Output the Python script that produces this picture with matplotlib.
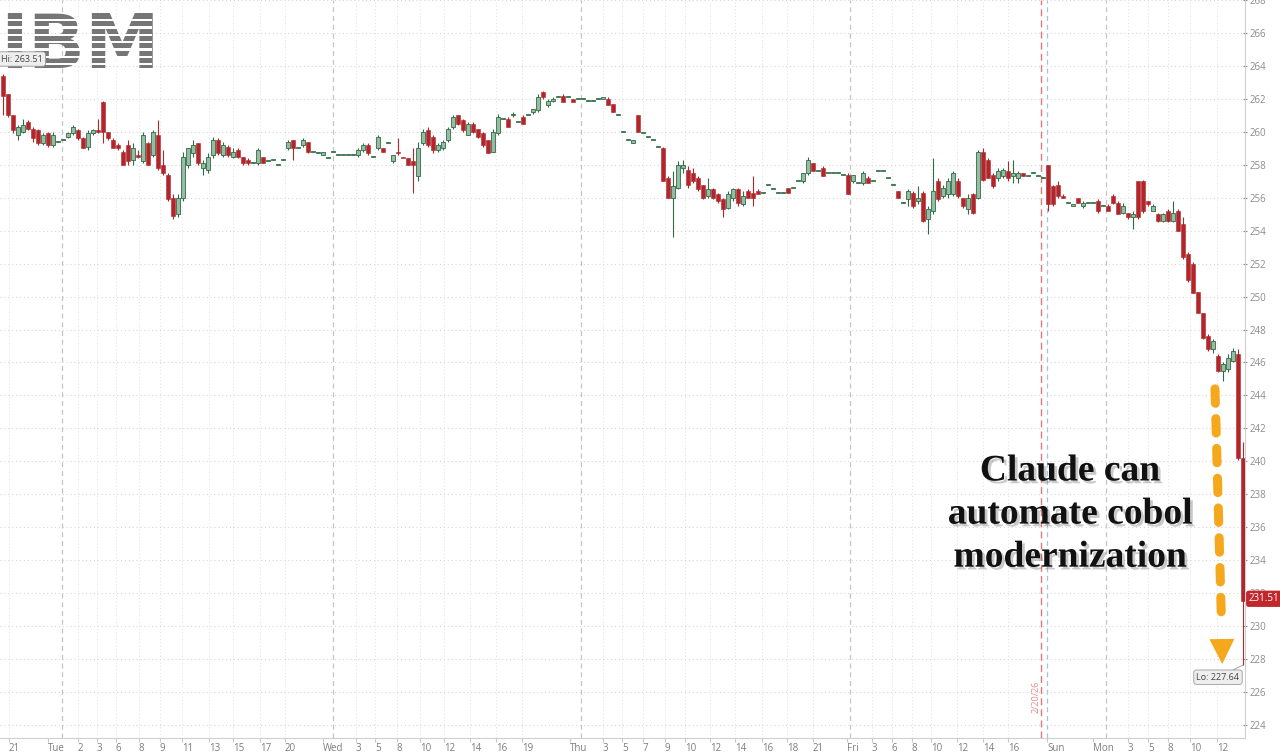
import numpy as np
import matplotlib
matplotlib.use("Agg")
import matplotlib.pyplot as plt
from matplotlib import patheffects
from matplotlib.patches import Rectangle

# ---- candle data (ordinal bars) ----
opens = [
    263.4, 262.3, 261.0, 259.8, 260.0, 260.6, 260.2, 260.1, 259.3, 259.9,
    259.2, 259.4, 259.5, 259.7, 259.9, 260.1, 259.6, 259.1, 259.9, 260.1,
    261.8, 260.0, 259.5, 259.2, 258.8, 259.2, 258.3, 258.6, 258.2, 259.3,
    258.6, 259.8, 258.0, 257.4, 256.0, 255.0, 256.0, 258.0, 258.7, 259.3,
    257.8, 257.7, 258.6, 259.5, 258.6, 259.1, 258.5, 258.9, 258.5, 258.3,
    258.1, 258.1, 258.5, 258.2, 258.3, 258.0, 258.3, 259.0, 259.5, 259.0,
    259.2, 259.4, 258.8, 258.7, 258.6, 258.4, 258.8, 258.6, 258.6, 258.6,
    258.6, 258.6, 258.9, 259.2, 258.5, 259.0, 259.0, 259.3, 258.2, 258.8,
    258.5, 258.4, 258.2, 257.3, 259.3, 260.1, 259.7, 258.9, 259.0, 259.5,
    260.3, 261.0, 260.7, 259.8, 260.5, 260.2, 259.9, 259.5, 258.8, 259.9,
    260.8, 260.8, 261.0, 260.6, 260.9, 261.0, 261.2, 261.3, 262.4, 261.6,
    261.9, 262.1, 262.2, 262.1, 262.0, 262.0, 262.0, 261.9, 261.9, 262.0,
    262.0, 262.0, 261.7, 261.0, 260.0, 259.5, 259.3, 261.0, 259.9, 259.7,
    259.5, 259.1, 259.0, 257.2, 256.0, 256.6, 257.8, 257.7, 257.5, 257.2,
    256.8, 256.1, 256.5, 256.2, 255.9, 255.4, 256.0, 256.5, 255.6, 256.4,
    256.3, 256.4, 256.3, 256.8, 256.5, 256.3, 256.3, 256.6, 256.6, 257.0,
    257.0, 257.5, 258.1, 257.6, 257.8, 257.5, 257.5, 257.5, 257.4, 257.4,
    257.0, 256.9, 256.9, 257.2, 257.0, 257.6, 257.6, 257.2, 256.8, 256.4,
    255.7, 255.9, 256.3, 255.8, 256.3, 254.7, 255.2, 257.0, 256.1, 256.2,
    256.2, 257.0, 256.0, 255.3, 256.2, 256.0, 258.8, 258.3, 257.4, 257.2,
    257.3, 257.6, 257.3, 257.2, 257.5, 257.3, 257.5, 257.3, 257.2, 258.0,
    256.7, 256.8, 256.1, 255.7, 255.5, 256.0, 255.5, 255.7, 255.7, 255.8,
    255.5, 255.5, 256.1, 255.7, 255.1, 255.1, 254.8, 257.0, 257.0, 255.8,
    255.2, 255.0, 254.6, 255.2, 254.6, 255.2, 254.4, 252.6, 252.0, 250.3,
    249.0, 247.6, 246.8, 246.4, 245.5, 245.6, 246.1, 246.5, 240.2,
]
highs = [
    263.5, 262.3, 261.0, 260.4, 260.8, 260.7, 260.3, 260.2, 259.9, 260.0,
    260.0, 259.4, 259.5, 260.0, 260.4, 260.2, 259.7, 260.1, 260.2, 260.8,
    261.9, 260.0, 259.6, 259.3, 258.9, 259.5, 259.3, 258.9, 260.0, 259.4,
    260.1, 260.7, 258.9, 257.5, 256.2, 256.2, 258.8, 259.0, 259.5, 259.3,
    258.3, 258.7, 259.7, 259.6, 259.4, 259.2, 259.0, 259.0, 258.5, 258.4,
    258.1, 259.0, 258.5, 258.2, 258.3, 258.0, 258.3, 259.5, 259.5, 259.0,
    259.6, 259.4, 258.8, 258.7, 258.8, 258.4, 258.8, 258.6, 258.6, 258.6,
    258.6, 259.0, 259.3, 259.3, 258.5, 259.8, 259.0, 259.3, 258.6, 259.6,
    258.5, 258.4, 259.0, 259.4, 260.2, 260.3, 259.8, 259.3, 259.5, 260.3,
    261.0, 261.0, 260.8, 260.6, 260.6, 260.2, 260.0, 259.5, 260.2, 261.1,
    260.8, 260.9, 261.2, 260.6, 261.0, 261.0, 261.4, 262.3, 262.5, 262.0,
    262.1, 262.1, 262.3, 262.1, 262.0, 262.0, 262.0, 261.9, 261.9, 262.0,
    262.1, 262.1, 261.7, 261.0, 260.0, 259.5, 259.5, 261.0, 259.9, 259.7,
    259.5, 259.1, 259.1, 257.3, 257.6, 258.2, 258.3, 257.9, 257.8, 257.3,
    256.8, 257.2, 256.6, 256.3, 256.0, 256.4, 256.6, 256.6, 256.4, 256.5,
    257.3, 256.5, 256.3, 256.8, 256.5, 256.3, 256.3, 256.6, 256.6, 257.0,
    257.5, 258.5, 258.1, 257.6, 257.9, 257.5, 257.5, 257.5, 257.4, 257.5,
    257.4, 256.9, 257.6, 257.3, 257.0, 257.6, 257.6, 257.2, 256.8, 256.4,
    255.7, 256.5, 256.4, 256.7, 256.4, 255.5, 258.4, 257.2, 256.8, 257.2,
    257.6, 257.2, 256.0, 256.2, 256.3, 258.9, 259.0, 258.4, 257.5, 257.8,
    257.8, 258.2, 258.3, 257.6, 257.5, 257.3, 257.5, 257.3, 257.2, 258.0,
    256.8, 257.0, 256.2, 255.7, 255.6, 256.0, 255.8, 255.7, 255.7, 255.9,
    255.5, 255.6, 256.2, 255.8, 255.7, 255.1, 255.2, 257.0, 257.1, 255.8,
    255.6, 255.1, 255.1, 255.3, 255.8, 255.3, 254.8, 252.7, 252.1, 250.3,
    249.0, 247.7, 247.4, 246.5, 246.0, 246.5, 246.9, 246.8, 241.2,
]
lows = [
    261.0, 260.9, 259.9, 259.5, 259.9, 260.1, 259.4, 259.2, 259.2, 259.1,
    259.1, 259.4, 259.5, 259.6, 259.8, 259.5, 259.0, 258.9, 259.8, 259.9,
    259.3, 259.5, 259.0, 258.9, 258.0, 258.0, 258.0, 258.4, 258.1, 258.0,
    258.5, 257.7, 257.4, 255.8, 254.7, 254.8, 255.8, 257.8, 258.5, 258.0,
    257.4, 257.5, 258.4, 258.6, 258.5, 258.5, 258.4, 258.4, 258.0, 258.0,
    258.1, 258.0, 258.1, 258.2, 258.3, 258.0, 258.3, 258.9, 258.3, 259.0,
    259.1, 258.7, 258.8, 258.7, 258.6, 258.4, 258.8, 258.6, 258.6, 258.6,
    258.6, 258.5, 258.8, 258.6, 258.5, 258.9, 258.8, 259.3, 258.1, 258.6,
    258.4, 258.0, 256.3, 257.0, 259.2, 259.1, 258.7, 258.8, 258.9, 259.4,
    260.2, 260.4, 260.0, 259.8, 259.9, 259.6, 259.1, 258.7, 258.8, 259.8,
    260.8, 260.3, 260.9, 260.6, 260.5, 261.0, 261.1, 261.2, 262.0, 261.5,
    261.8, 262.1, 261.8, 262.1, 261.8, 262.0, 262.0, 261.9, 261.9, 262.0,
    262.0, 261.6, 261.2, 261.0, 260.0, 259.5, 259.3, 260.0, 259.9, 259.7,
    259.5, 259.1, 257.0, 256.0, 253.6, 256.5, 257.5, 256.6, 256.9, 256.4,
    255.9, 256.0, 255.9, 255.7, 254.8, 255.3, 255.8, 255.5, 255.5, 256.0,
    255.5, 256.2, 256.3, 256.8, 256.5, 256.3, 256.3, 256.3, 256.6, 257.0,
    256.9, 257.4, 257.6, 257.6, 257.3, 257.5, 257.5, 257.5, 257.4, 256.2,
    256.9, 256.9, 256.8, 256.9, 257.0, 257.6, 257.6, 257.2, 256.8, 256.0,
    255.7, 255.5, 255.4, 255.6, 254.5, 253.8, 255.0, 255.8, 256.0, 256.0,
    256.1, 256.0, 255.4, 255.0, 255.0, 255.9, 257.0, 257.2, 256.6, 257.0,
    257.2, 257.0, 256.9, 256.9, 257.3, 257.3, 257.5, 257.3, 257.2, 255.2,
    255.5, 256.0, 256.0, 255.7, 255.5, 255.7, 255.4, 255.7, 255.7, 255.1,
    255.5, 255.2, 255.6, 255.0, 255.0, 254.7, 254.1, 254.7, 255.1, 255.5,
    255.2, 254.5, 254.5, 254.5, 254.5, 254.0, 252.3, 250.9, 250.2, 249.0,
    247.4, 246.7, 246.6, 245.4, 244.9, 245.4, 246.0, 240.1, 227.64,
]
closes = [
    262.2, 261.0, 260.1, 260.3, 260.4, 260.2, 259.6, 259.3, 259.8, 259.2,
    259.8, 259.4, 259.5, 259.9, 260.3, 259.6, 259.0, 259.9, 260.1, 260.0,
    260.0, 259.6, 259.0, 259.0, 258.0, 258.2, 259.0, 258.5, 259.8, 258.0,
    260.0, 257.8, 257.5, 255.9, 254.9, 256.0, 258.5, 259.0, 259.2, 258.1,
    258.1, 258.5, 259.5, 258.7, 259.2, 258.6, 258.8, 258.5, 258.1, 258.1,
    258.1, 258.9, 258.1, 258.2, 258.3, 258.0, 258.3, 259.4, 259.0, 259.0,
    259.5, 258.8, 258.8, 258.7, 258.8, 258.4, 258.8, 258.6, 258.6, 258.6,
    258.6, 258.9, 259.2, 258.7, 258.5, 259.7, 258.8, 259.3, 258.6, 258.7,
    258.4, 258.0, 258.0, 259.0, 260.0, 259.2, 258.9, 259.2, 259.4, 260.2,
    260.9, 260.5, 260.1, 260.5, 260.0, 259.7, 259.2, 258.7, 260.0, 260.9,
    260.8, 260.3, 261.1, 260.6, 260.5, 261.0, 261.4, 262.1, 262.1, 261.9,
    262.0, 262.1, 261.8, 262.1, 261.8, 262.0, 262.0, 261.9, 261.9, 262.0,
    262.1, 261.6, 261.2, 261.0, 260.0, 259.5, 259.5, 260.0, 259.9, 259.7,
    259.5, 259.1, 257.0, 256.0, 256.7, 258.0, 258.0, 256.8, 257.0, 256.5,
    256.0, 256.5, 256.0, 255.8, 255.3, 256.2, 256.5, 255.7, 256.1, 256.0,
    256.0, 256.2, 256.3, 256.8, 256.5, 256.3, 256.3, 256.3, 256.6, 257.0,
    257.5, 258.3, 257.6, 257.6, 257.3, 257.5, 257.5, 257.5, 257.4, 256.2,
    257.4, 256.9, 257.5, 256.9, 257.0, 257.6, 257.6, 257.2, 256.8, 256.0,
    255.7, 256.4, 255.5, 256.0, 254.6, 255.3, 256.4, 255.9, 256.6, 257.0,
    257.5, 256.1, 255.5, 256.0, 255.1, 258.8, 257.1, 257.2, 256.7, 257.6,
    257.7, 257.2, 257.5, 257.5, 257.3, 257.3, 257.5, 257.3, 257.2, 255.6,
    255.6, 256.1, 256.0, 255.7, 255.6, 255.7, 255.7, 255.7, 255.7, 255.2,
    255.5, 255.2, 255.7, 255.0, 255.5, 254.8, 255.0, 254.8, 255.2, 255.6,
    255.5, 254.6, 255.0, 254.6, 255.1, 254.0, 252.4, 251.0, 250.2, 249.0,
    247.5, 246.8, 247.3, 245.5, 245.9, 246.3, 246.7, 240.2, 231.51,
]

# x-axis ticks (bar-index positions) and labels
tick_pos = [1.2, 9.0, 15.0, 18.8, 22.6, 27.2, 31.4, 35.8, 41.2, 46.0, 51.4, 56.4,
            64.0, 70.6, 74.4, 78.8, 83.4, 88.2, 93.4, 98.6, 103.8,
            113.4, 120.0, 123.8, 128.0, 132.4, 136.4, 141.4, 146.4, 151.8, 156.8, 162.0,
            168.8, 173.8, 177.8, 181.8, 185.6, 190.8, 196.0, 201.0,
            208.8, 218.0, 225.0, 229.0, 233.0, 237.4, 242.8]
tick_labels = ["21", "Tue", "2", "3", "6", "8", "9", "11", "13", "15", "17", "20",
               "Wed", "3", "5", "8", "10", "12", "14", "16", "19",
               "Thu", "3", "5", "7", "9", "10", "12", "14", "16", "18", "21",
               "Fri", "3", "6", "8", "10", "12", "14", "16",
               "Sun", "Mon", "3", "5", "8", "10", "12"]
day_lines = [11.8, 66.0, 115.6, 169.4, 220.6]
sun_line = 208.8
date_line = 207.6
date_text = "2/20/26"
hi_val = 263.51
lo_val = 227.64
last_val = 231.51
headline = "Claude can\nautomate cobol\nmodernization"

RED = "#b2262b"
GREEN_EDGE = "#2e6b45"
GREEN_FILL = "#96bda3"
ORANGE = "#f5a81c"
GRID = "#d6d6d6"

plt.rcParams["font.family"] = ["Open Sans", "DejaVu Sans"]

fig = plt.figure(figsize=(12.8, 7.52), dpi=100)
ax = fig.add_axes([0, 14 / 752, 1245 / 1280, 738 / 752])

o = np.array(opens)
h = np.array(highs)
l = np.array(lows)
c = np.array(closes)
idx = np.arange(len(o))
up = c >= o
dn = ~up
body_lo = np.minimum(o, c)
body_h = np.maximum(np.abs(c - o), 0.06)

ax.vlines(idx[up], l[up], h[up], color=GREEN_EDGE, lw=0.8, zorder=3)
ax.bar(idx[up], body_h[up], bottom=body_lo[up], width=0.7,
       color=GREEN_FILL, edgecolor=GREEN_EDGE, lw=0.6, zorder=4)
ax.vlines(idx[dn], l[dn], h[dn], color=RED, lw=0.8, zorder=3)
ax.bar(idx[dn], body_h[dn], bottom=body_lo[dn], width=0.7,
       color=RED, edgecolor=RED, lw=0.4, zorder=4)

ax.set_xlim(-0.6, 248.4)
ax.set_ylim(223.21, 267.94)

# grid
ax.set_yticks(np.arange(224, 269, 2))
ax.yaxis.tick_right()
ax.grid(axis="y", color=GRID, ls=(0, (1, 2.5)), lw=0.8)
ax.set_xticks(tick_pos)
ax.set_xticklabels(tick_labels)
for t in ax.get_xticklabels():
    t.set_ha("left")
for p, lab in zip(tick_pos, tick_labels):
    if not lab[0].isalpha():
        ax.axvline(p, color="#e0e0e0", ls=(0, (1, 2.5)), lw=0.7, zorder=1)
for d in day_lines:
    ax.axvline(d, color="#c4c4c4", ls=(0, (4, 3)), lw=0.9, zorder=1)
ax.axvline(sun_line, color="#a9c3d6", ls=(0, (4, 3)), lw=0.9, zorder=1)
ax.axvline(date_line, color="#e07a7a", ls=(0, (5, 3)), lw=1.0, zorder=2)
ax.text(date_line - 1.0, 225.7, date_text, rotation=90, ha="center", va="center",
        color="#e08a8a", fontsize=6.5)

ax.tick_params(axis="y", colors="#8c8c8c", labelsize=7, length=3, direction="inout",
               pad=2)
ax.tick_params(axis="x", colors="#c8c8c8", labelcolor="#7d7d7d", labelsize=7,
               length=3, pad=0.5)
for s in ("top", "left"):
    ax.spines[s].set_visible(False)
ax.spines["right"].set_color("#cfcfcf")
ax.spines["bottom"].set_color("#cfcfcf")

# hi / lo / last labels
box = dict(boxstyle="round,pad=0.3", fc="#eeeeee", ec="#9a9a9a", lw=0.6)
fig.text(1, 752 - 59, f"Hi: {hi_val:.2f}", transform=None, ha="left", va="center",
         fontsize=6.5, color="#444444", bbox=box, zorder=8)
ax.annotate(f"Lo: {lo_val:.2f}", xy=(len(o) - 1, lo_val), xytext=(243.0, 226.9),
            ha="center", va="center", fontsize=6.5, color="#444444", bbox=box,
            arrowprops=dict(arrowstyle="-", color="#9a9a9a", lw=0.6,
                            shrinkA=0, shrinkB=0), zorder=6)
ax.text(1.003, last_val + 0.15, f"{last_val:.2f}", transform=ax.get_yaxis_transform(),
        ha="left", va="center", fontsize=7, color="white", clip_on=False, zorder=9,
        bbox=dict(boxstyle="round,pad=0.2", fc="#c0282d", ec="#c0282d"))

# headline annotation
ax.text(213.4, 236.8, headline, ha="center", va="center", multialignment="center",
        family=["Liberation Serif", "DejaVu Serif"], fontweight="bold", fontsize=27,
        color="#111111", linespacing=1.3, zorder=7,
        path_effects=[patheffects.withSimplePatchShadow(offset=(2, -2),
                                                         shadow_rgbFace="#666666",
                                                         alpha=0.35)])

# dashed orange arrow
ax.plot([242.4, 243.7], [244.4, 230.2], color=ORANGE, lw=6.5,
        ls=(0, (1.6, 1.7)), dash_capstyle="round", zorder=7)
ax.annotate("", xy=(243.85, 227.7), xytext=(243.75, 229.7),
            arrowprops=dict(arrowstyle="-|>,head_length=1.8,head_width=0.9",
                            mutation_scale=10, color=ORANGE, lw=0,
                            shrinkA=0, shrinkB=0), zorder=7)

# IBM logo, top left
fig.text(0.0, 752 - 68, "IBM", transform=None, fontsize=54, fontweight="heavy",
         family="DejaVu Sans", color="#767676", ha="left", va="baseline", zorder=5)
for k in range(7):
    y_top = 19 + k * 7.3
    fig.add_artist(Rectangle((0, 752 - y_top - 2.4), 152, 2.4, transform=None,
                             fc="white", ec="none", zorder=6))

fig.savefig("out.png", dpi=100, facecolor="white")
